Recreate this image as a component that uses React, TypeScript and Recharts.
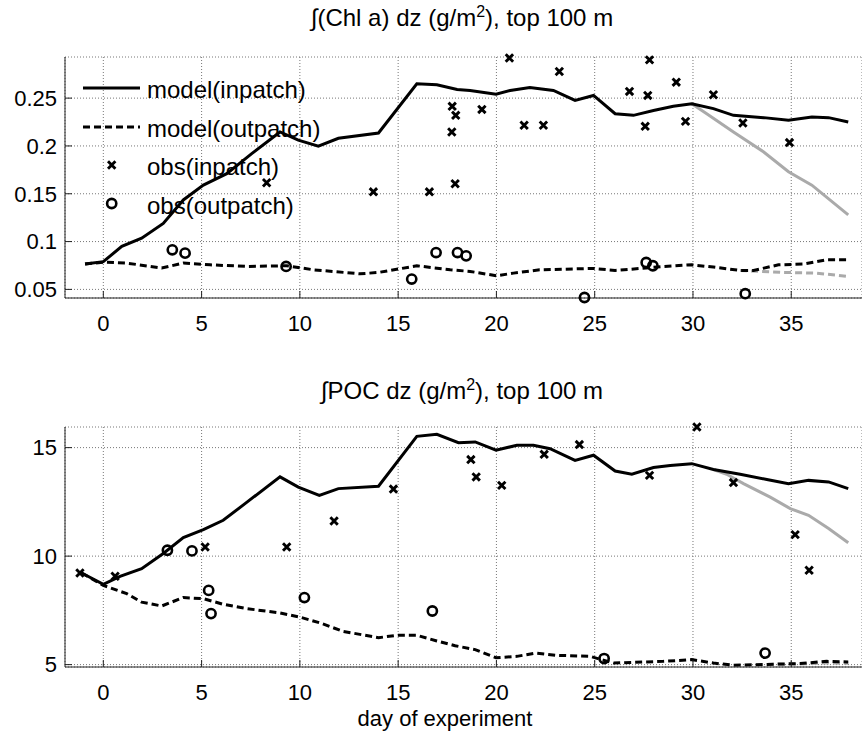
import React from "react";
import { ComposedChart, Line, Scatter, XAxis, YAxis, CartesianGrid } from "recharts";

// [day, value] pairs
const chlModelIn = [
  [-0.93, 0.0765], [0, 0.079], [0.94, 0.095], [1.95, 0.1035], [3.05, 0.119], [4.07, 0.1435],
  [5.09, 0.159], [6.28, 0.171], [7.55, 0.192], [8.99, 0.2146], [9.92, 0.206], [10.94, 0.1997],
  [11.96, 0.208], [14.0, 0.2135], [15.95, 0.265], [16.97, 0.264], [18.0, 0.259], [18.66, 0.258],
  [19.98, 0.254], [20.7, 0.258], [21.7, 0.261], [22.9, 0.258], [24.0, 0.2476], [24.94, 0.2528],
  [26.04, 0.2337], [26.97, 0.232], [27.99, 0.237], [29.0, 0.2414], [29.94, 0.244], [31.04, 0.239],
  [32.06, 0.232], [33.6, 0.2296], [34.86, 0.2268], [36.05, 0.2302], [36.9, 0.2296], [37.9, 0.225],
];
const chlModelOut = [
  [-0.93, 0.0765], [0, 0.0785], [1.19, 0.0775], [2.97, 0.0723], [4.07, 0.0775], [5.43, 0.0757],
  [7.3, 0.074], [9.33, 0.0747], [10.69, 0.0705], [13.06, 0.0663], [14.0, 0.0677], [15.95, 0.0747],
  [17.65, 0.0705], [18.66, 0.0688], [20.0, 0.0643], [20.87, 0.067], [22.2, 0.0705], [24.94, 0.0719],
  [26.04, 0.0698], [27.31, 0.0719], [28.5, 0.074], [29.94, 0.0757], [31.04, 0.0733], [32.4, 0.0698],
  [33.08, 0.0698], [34.35, 0.0757], [35.62, 0.0765], [36.8, 0.0809], [37.9, 0.0809],
];
const chlAltIn = [
  [29.94, 0.244], [30.7, 0.2337], [32.06, 0.2146], [33.6, 0.1937], [34.86, 0.173], [36.05, 0.159], [37.9, 0.128],
];
const chlAltOut = [[32.4, 0.0698], [34.6, 0.0677], [36.3, 0.067], [37.9, 0.0635]];
const chlObsIn = [
  [8.31, 0.1615], [13.74, 0.152], [16.59, 0.152], [17.75, 0.2414], [17.93, 0.232], [17.73, 0.2146],
  [17.9, 0.1605], [19.26, 0.2382], [20.66, 0.292], [21.41, 0.2216], [22.39, 0.2216], [23.2, 0.2778],
  [26.77, 0.257], [27.79, 0.29], [27.7, 0.2528], [27.57, 0.2205], [29.15, 0.2667], [29.62, 0.2257],
  [31.04, 0.2535], [32.54, 0.224], [34.91, 0.2035],
];
const chlObsOut = [
  [3.51, 0.0914], [4.16, 0.0879], [9.3, 0.074], [15.69, 0.0608], [16.93, 0.0885], [18.02, 0.0885],
  [18.46, 0.0851], [24.48, 0.0415], [27.62, 0.0781], [27.96, 0.0747], [32.66, 0.0455],
];

const pocModelIn = [
  [-1.1, 9.22], [0, 8.7], [0.85, 9.07], [1.95, 9.42], [3.05, 10.12], [4.07, 10.85], [5.09, 11.22],
  [6.1, 11.65], [7.21, 12.42], [8.99, 13.65], [9.92, 13.18], [10.99, 12.8], [11.96, 13.11], [14.0, 13.22],
  [15.95, 15.52], [16.97, 15.61], [18.07, 15.23], [18.92, 15.26], [19.98, 14.88], [21.04, 15.11],
  [21.88, 15.11], [22.73, 14.95], [24.0, 14.41], [24.94, 14.65], [26.04, 13.92], [26.89, 13.77],
  [27.99, 14.08], [28.84, 14.18], [29.94, 14.26], [31.04, 13.99], [32.4, 13.77], [33.76, 13.53],
  [34.86, 13.34], [35.88, 13.49], [36.9, 13.42], [37.9, 13.11],
];
const pocModelOut = [
  [-1.1, 9.22], [0, 8.65], [1.19, 8.27], [1.95, 7.88], [2.97, 7.7], [4.07, 8.09], [5.09, 8.04],
  [6.1, 7.78], [7.3, 7.58], [8.99, 7.38], [10.0, 7.19], [11.03, 6.92], [12.21, 6.53], [14.0, 6.24],
  [14.93, 6.35], [15.95, 6.35], [16.97, 6.09], [17.9, 5.87], [18.92, 5.69], [19.98, 5.32], [21.04, 5.38],
  [21.97, 5.53], [22.99, 5.43], [24.77, 5.38], [25.96, 5.07], [28.5, 5.15], [29.94, 5.23], [31.04, 5.07],
  [32.06, 4.97], [33.76, 5.01], [35.45, 5.05], [36.8, 5.15], [37.9, 5.12],
];
const pocAltIn = [
  [31.04, 13.99], [31.72, 13.77], [32.57, 13.34], [33.93, 12.72], [34.95, 12.19], [35.88, 11.88],
  [36.9, 11.27], [37.9, 10.62],
];
const pocAltOut = [[33.76, 5.01], [35.45, 5.03], [36.8, 5.08], [37.9, 5.06]];
const pocObsIn = [
  [-1.19, 9.22], [0.6, 9.07], [5.18, 10.42], [9.33, 10.42], [11.74, 11.62], [14.76, 13.09], [18.7, 14.45],
  [18.97, 13.65], [20.27, 13.26], [22.43, 14.69], [24.22, 15.14], [27.79, 13.72], [30.2, 15.95],
  [32.06, 13.39], [35.2, 10.99], [35.91, 9.35],
];
const pocObsOut = [
  [3.26, 10.27], [4.51, 10.24], [5.36, 8.42], [5.48, 7.35], [10.23, 8.09], [16.74, 7.47], [25.48, 5.28],
  [33.67, 5.53],
];

const dayTicks = [0, 5, 10, 15, 20, 25, 30, 35];
const chlTicks = [0.05, 0.1, 0.15, 0.2, 0.25];
const pocTicks = [5, 10, 15];
const legendLabels = ["model(inpatch)", "model(outpatch)", "obs(inpatch)", "obs(outpatch)"];

const FONT = "'Liberation Sans', Arial, Helvetica, sans-serif";
const GRAY = "#aaaaaa";
const DASH = "7 4";
const LW = 3;

const pts = (arr: number[][]) => arr.map(([x, y]) => ({ x, y }));

const XMark = (p: any) => {
  const { cx, cy } = p;
  const s = 3.7;
  return (
    <path
      d={`M${cx - s},${cy - s}L${cx + s},${cy + s}M${cx - s},${cy + s}L${cx + s},${cy - s}`}
      stroke="#000"
      strokeWidth={2.9}
      fill="none"
    />
  );
};

const OMark = (p: any) => (
  <circle cx={p.cx} cy={p.cy} r={4.6} fill="none" stroke="#000" strokeWidth={2.6} />
);

function Panel(props: any) {
  const { height, top, axisH, yDomain, yTicks, mIn, mOut, aIn, aOut, oIn, oOut } = props;
  const tickStyle = { fontSize: 22, fill: "#000", fontFamily: FONT };
  return (
    <ComposedChart width={862} height={height} margin={{ top, right: 0, bottom: 0, left: 0 }}>
      <CartesianGrid stroke="#777" strokeDasharray="1 2" />
      <XAxis
        type="number"
        dataKey="x"
        domain={[-1.95, 38.6]}
        ticks={dayTicks}
        interval={0}
        height={axisH}
        tickSize={-7}
        tickMargin={24}
        stroke="#222"
        tick={tickStyle}
      />
      <XAxis
        xAxisId="top"
        orientation="top"
        type="number"
        dataKey="x"
        domain={[-1.95, 38.6]}
        ticks={dayTicks}
        interval={0}
        height={0}
        tickSize={-7}
        stroke="#222"
        tickFormatter={() => ""}
      />
      <YAxis
        type="number"
        domain={yDomain}
        ticks={yTicks}
        interval={0}
        width={65}
        tickSize={-7}
        tickMargin={15}
        stroke="#222"
        tick={tickStyle}
      />
      <Line data={pts(aIn)} dataKey="y" stroke={GRAY} strokeWidth={LW} dot={false} isAnimationActive={false} />
      <Line data={pts(aOut)} dataKey="y" stroke={GRAY} strokeWidth={LW} strokeDasharray={DASH} dot={false} isAnimationActive={false} />
      <Line data={pts(mIn)} dataKey="y" stroke="#000" strokeWidth={LW} dot={false} isAnimationActive={false} />
      <Line data={pts(mOut)} dataKey="y" stroke="#000" strokeWidth={LW} strokeDasharray={DASH} dot={false} isAnimationActive={false} />
      <Scatter data={pts(oIn)} dataKey="y" shape={XMark} isAnimationActive={false} />
      <Scatter data={pts(oOut)} dataKey="y" shape={OMark} isAnimationActive={false} />
    </ComposedChart>
  );
}

export default function App() {
  return (
    <div style={{ position: "absolute", left: 0, top: 0, width: 862, height: 738, background: "#fff" }}>
      <Panel
        height={340}
        top={57}
        axisH={42}
        yDomain={[0.041, 0.293]}
        yTicks={chlTicks}
        mIn={chlModelIn}
        mOut={chlModelOut}
        aIn={chlAltIn}
        aOut={chlAltOut}
        oIn={chlObsIn}
        oOut={chlObsOut}
      />
      <Panel
        height={398}
        top={87}
        axisH={71}
        yDomain={[4.89, 15.95]}
        yTicks={pocTicks}
        mIn={pocModelIn}
        mOut={pocModelOut}
        aIn={pocAltIn}
        aOut={pocAltOut}
        oIn={pocObsIn}
        oOut={pocObsOut}
      />
      <svg
        width={862}
        height={738}
        style={{ position: "absolute", left: 0, top: 0, pointerEvents: "none" }}
        fontFamily={FONT}
      >
        <text x={462} y={26} textAnchor="middle" fontSize={24}>
          ∫(Chl a) dz (g/m<tspan dy={-9} fontSize={16}>2</tspan>
          <tspan dy={9}>), top 100 m</tspan>
        </text>
        <text x={462} y={399} textAnchor="middle" fontSize={24}>
          ∫POC dz (g/m<tspan dy={-9} fontSize={16}>2</tspan>
          <tspan dy={9}>), top 100 m</tspan>
        </text>
        <text x={445} y={726} textAnchor="middle" fontSize={22}>day of experiment</text>

        <line x1={83} x2={140} y1={88} y2={88} stroke="#000" strokeWidth={LW} />
        <line x1={83} x2={140} y1={127} y2={127} stroke="#000" strokeWidth={LW} strokeDasharray={DASH} />
        <XMark cx={111.7} cy={165} />
        <OMark cx={111.7} cy={203.5} />
        {legendLabels.map((l, i) => (
          <text key={l} x={147} y={98 + i * 38.6} fontSize={24}>
            {l}
          </text>
        ))}
      </svg>
    </div>
  );
}
